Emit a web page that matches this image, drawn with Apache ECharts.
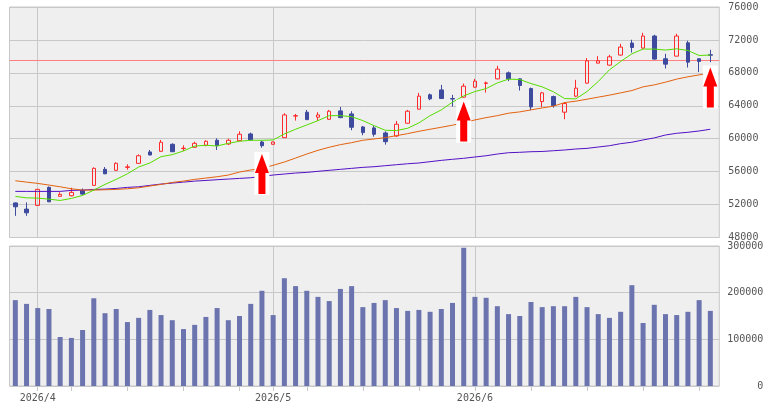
<!DOCTYPE html>
<html>
<head>
<meta charset="utf-8">
<script src="https://cdn.jsdelivr.net/npm/echarts@6/dist/echarts.min.js"></script>
<style>
  html, body { margin: 0; padding: 0; background: #fff; }
  #main { width: 768px; height: 406px; }
</style>
</head>
<body>
<div id="main"></div>
<script>
// trading days
var dates = [
  '2026/03/30','2026/03/31','2026/04/01','2026/04/02','2026/04/03','2026/04/06','2026/04/07','2026/04/08','2026/04/09','2026/04/10',
  '2026/04/13','2026/04/14','2026/04/15','2026/04/16','2026/04/17','2026/04/20','2026/04/21','2026/04/22','2026/04/23','2026/04/24',
  '2026/04/27','2026/04/28','2026/04/30','2026/05/01','2026/05/07','2026/05/08','2026/05/11','2026/05/12','2026/05/13','2026/05/14',
  '2026/05/15','2026/05/18','2026/05/19','2026/05/20','2026/05/21','2026/05/22','2026/05/25','2026/05/26','2026/05/27','2026/05/28',
  '2026/05/29','2026/06/01','2026/06/02','2026/06/03','2026/06/04','2026/06/05','2026/06/08','2026/06/09','2026/06/10','2026/06/11',
  '2026/06/12','2026/06/15','2026/06/16','2026/06/17','2026/06/18','2026/06/19','2026/06/22','2026/06/23','2026/06/24','2026/06/25',
  '2026/06/26','2026/06/29','2026/06/30'
];
var opens = [52200,51450,51900,54090,53000,53070,53720,54330,56280,56160,
  56520,57010,58390,58470,59320,58800,58960,59200,59810,59360,
  59760,60580,59600,59320,60130,62750,63220,62610,62360,63380,
  63010,61430,61310,60700,60330,61880,63590,65330,65930,64880,
  65050,66260,66720,67270,68000,67270,66090,64510,65120,63220,
  65170,66750,69180,68940,70160,71620,71010,72470,69710,70030,
  71650,69710,70200];
var closes = [51730,51000,53850,52330,53240,53480,53270,56400,55740,57010,
  56580,57930,58020,59570,58420,58850,59440,59690,59150,59810,
  60540,59850,59150,59600,62890,62800,62320,62890,63340,62560,
  61390,60740,60540,59640,61760,63340,65170,64840,64880,64820,
  66380,66990,66780,68450,67270,66460,63860,65570,64020,64270,
  66140,69460,69460,69950,71130,71080,72470,69670,69060,72470,
  69300,69380,70150];
var lows = [50630,50630,51850,52330,52980,53000,53200,54300,55700,56100,
  56230,56950,58000,58400,58400,58510,58900,59080,58630,59240,
  59700,59800,58910,59300,60100,62200,62300,62160,62300,62500,
  61030,60420,60250,59280,60210,61850,63550,64680,64850,63900,
  65000,66200,65600,67200,66990,65850,63460,63830,63780,62370,
  65050,66700,69150,68900,70100,70470,70950,69600,68530,70000,
  68650,68090,69300];
var highs = [52250,52260,53900,54200,53500,54050,53950,56520,56560,57130,
  56890,58100,58630,59850,59440,59200,59640,59810,60050,60000,
  60900,60740,59760,59650,63100,63010,63500,63220,63500,63860,
  63340,61550,61550,60900,62160,63500,65570,65480,66540,65330,
  66700,67270,66950,68860,68160,67300,66210,65690,65240,64440,
  67150,69790,70030,70190,71530,72020,72870,72630,70310,72750,
  71900,69750,70800];
var volumes = [184000,176000,167000,165000,105000,103000,120000,188000,156000,165000,
  137000,146000,163000,152000,141000,122000,131000,148000,167000,141000,
  150000,176000,204000,152000,231000,214000,204000,191000,182000,208000,
  214000,169000,178000,184000,167000,161000,163000,159000,165000,178000,
  296000,191000,189000,171000,154000,150000,180000,169000,171000,171000,
  191000,169000,154000,146000,159000,216000,135000,174000,154000,152000,
  159000,184000,161000];
var ma5 = [52990,52820,52780,52660,52500,52750,53110,53760,54450,55060,
  55740,56560,57050,57820,58060,58510,59110,59200,59120,59440,
  59690,59810,59810,59850,60580,61150,61670,62200,62800,62800,
  62680,62200,61590,61030,60990,61270,61920,62800,63500,64440,
  65200,65730,66090,66780,67240,67190,66700,66300,65700,64880,
  64840,65730,66950,68370,69380,70310,70890,70890,70770,70920,
  70720,70110,70160];
var ma25 = [54890,54730,54570,54370,54160,53920,53760,53760,53800,53840,
  53920,54040,54250,54450,54690,54850,55060,55220,55380,55590,
  55950,56200,56400,56770,57170,57650,58140,58590,58960,59280,
  59520,59810,59970,60130,60370,60620,60900,61150,61390,61640,
  61950,62280,62560,62800,63100,63260,63500,63740,63950,64390,
  64560,64800,65050,65290,65570,65850,66300,66540,66870,67240,
  67520,67750,67970];
var ma75 = [53600,53600,53600,53600,53600,53720,53760,53840,53880,53960,
  54090,54160,54330,54490,54610,54730,54850,54930,55020,55100,
  55180,55260,55420,55590,55710,55830,55910,56040,56160,56280,
  56400,56520,56600,56720,56840,56960,57050,57210,57370,57500,
  57620,57780,57930,58140,58300,58350,58420,58450,58540,58630,
  58750,58830,58990,59150,59400,59570,59850,60100,60450,60660,
  60780,60940,61150];
var priceTicks = [48000, 52000, 56000, 60000, 64000, 68000, 72000, 76000];
var volumeTicks = [0, 100000, 200000, 300000];
var arrowIdx = [22, 40, 62];
var arrowPrice = [58140, 64510, 68650];
var refPrice = 69550;

// month starts and mondays
var monthIdx = [];
var tickIdx = [];
for (var i = 1; i < dates.length; i++) {
  var d = new Date(dates[i]);
  var p = new Date(dates[i - 1]);
  if (d.getMonth() !== p.getMonth()) { monthIdx.push(i); tickIdx.push(i); }
  else if (d.getDay() === 1) tickIdx.push(i);
}

var candleData = [], volData = [], ma5Data = [], ma25Data = [], ma75Data = [];
for (var i = 0; i < dates.length; i++) {
  candleData.push([i, opens[i], closes[i], lows[i], highs[i]]);
  volData.push([i, volumes[i]]);
  ma5Data.push([i, ma5[i]]);
  ma25Data.push([i, ma25[i]]);
  ma75Data.push([i, ma75[i]]);
}

var gridLine = '#c8c8c8';
var textColor = '#555';
var font = 'DejaVu Sans Mono';
var plain = function (v) { return String(v); };

var monthLines = monthIdx.map(function (m) { return { xAxis: m }; });

var marks = [];
for (var k = 0; k < arrowIdx.length; k++) {
  marks.push({
    coord: [arrowIdx[k], arrowPrice[k]],
    symbol: 'rect', symbolSize: [15, 43], symbolOffset: [0, 19.5],
    itemStyle: { color: '#ffffff' }
  });
  marks.push({
    coord: [arrowIdx[k], arrowPrice[k]],
    symbol: 'path://M7,0 L14,19 L10.5,19 L10.5,40 L3.5,40 L3.5,19 L0,19 Z',
    symbolSize: [14, 40], symbolOffset: [0, 20], symbolKeepAspect: false,
    itemStyle: { color: '#ff0000' }
  });
}

var xMin = -0.52, xMax = 62.8;

var chart = echarts.init(document.getElementById('main'));
var option = {
  animation: false,
  backgroundColor: '#ffffff',
  grid: [
    { left: 9.5, top: 7, width: 709.8, height: 230.5, show: true,
      backgroundColor: '#efefef', borderColor: gridLine, borderWidth: 1 },
    { left: 9.5, top: 246, width: 709.8, height: 140, show: true,
      backgroundColor: '#efefef', borderColor: gridLine, borderWidth: 1 }
  ],
  xAxis: [
    { type: 'value', gridIndex: 0, min: xMin, max: xMax,
      axisLine: { show: false }, axisTick: { show: false },
      axisLabel: { show: false }, splitLine: { show: false } },
    { type: 'value', gridIndex: 1, min: xMin, max: xMax,
      axisLine: { show: false },
      axisTick: { show: true, customValues: tickIdx, length: 5, lineStyle: { color: gridLine } },
      axisLabel: {
        show: true, customValues: monthIdx, margin: 7,
        color: textColor, fontFamily: font, fontSize: 10,
        formatter: function (v) {
          var s = dates[Math.round(v)].split('/');
          return s[0] + '/' + parseInt(s[1], 10);
        }
      },
      splitLine: { show: false } }
  ],
  yAxis: [
    { type: 'value', gridIndex: 0, position: 'right',
      min: priceTicks[0], max: priceTicks[priceTicks.length - 1], interval: 4000,
      axisLine: { show: false },
      axisTick: { show: true, length: 6, lineStyle: { color: gridLine } },
      axisLabel: { margin: 9, color: textColor, fontFamily: font, fontSize: 10, formatter: plain },
      splitLine: { show: true, lineStyle: { color: gridLine, width: 1 } } },
    { type: 'value', gridIndex: 1, position: 'right',
      min: volumeTicks[0], max: volumeTicks[volumeTicks.length - 1], interval: 100000,
      axisLine: { show: false },
      axisTick: { show: true, length: 6, lineStyle: { color: gridLine } },
      axisLabel: { margin: 44, align: 'right', color: textColor, fontFamily: font, fontSize: 10, formatter: plain },
      splitLine: { show: true, lineStyle: { color: gridLine, width: 1 } } }
  ],
  series: [
    {
      type: 'candlestick', xAxisIndex: 0, yAxisIndex: 0,
      layout: 'horizontal',
      data: candleData,
      barWidth: 4,
      itemStyle: {
        color: 'rgba(0,0,0,0)', borderColor: '#ff2a2a',
        color0: '#3d4a9e', borderColor0: '#3d4a9e', borderWidth: 1
      },
      markLine: {
        silent: true, z: 1, symbol: ['none', 'none'],
        label: { show: false },
        lineStyle: { color: gridLine, type: 'solid', width: 1 },
        data: monthLines.concat([{ yAxis: refPrice, lineStyle: { color: '#ff8080', type: 'solid', width: 1 } }])
      },
      markPoint: {
        silent: true, label: { show: false },
        data: marks
      }
    },
    { type: 'line', xAxisIndex: 0, yAxisIndex: 0, data: ma75Data, showSymbol: false,
      lineStyle: { color: '#5311c6', width: 1 }, itemStyle: { color: '#5311c6' } },
    { type: 'line', xAxisIndex: 0, yAxisIndex: 0, data: ma25Data, showSymbol: false,
      lineStyle: { color: '#e4620e', width: 1 }, itemStyle: { color: '#e4620e' } },
    { type: 'line', xAxisIndex: 0, yAxisIndex: 0, data: ma5Data, showSymbol: false,
      lineStyle: { color: '#55dd00', width: 1 }, itemStyle: { color: '#55dd00' } },
    {
      type: 'bar', xAxisIndex: 1, yAxisIndex: 1, data: volData, barWidth: 5,
      itemStyle: { color: '#6b74ae' },
      markLine: {
        silent: true, z: 1, symbol: ['none', 'none'],
        label: { show: false },
        lineStyle: { color: gridLine, type: 'solid', width: 1 },
        data: monthLines
      }
    }
  ]
};
chart.setOption(option);
</script>
</body>
</html>
